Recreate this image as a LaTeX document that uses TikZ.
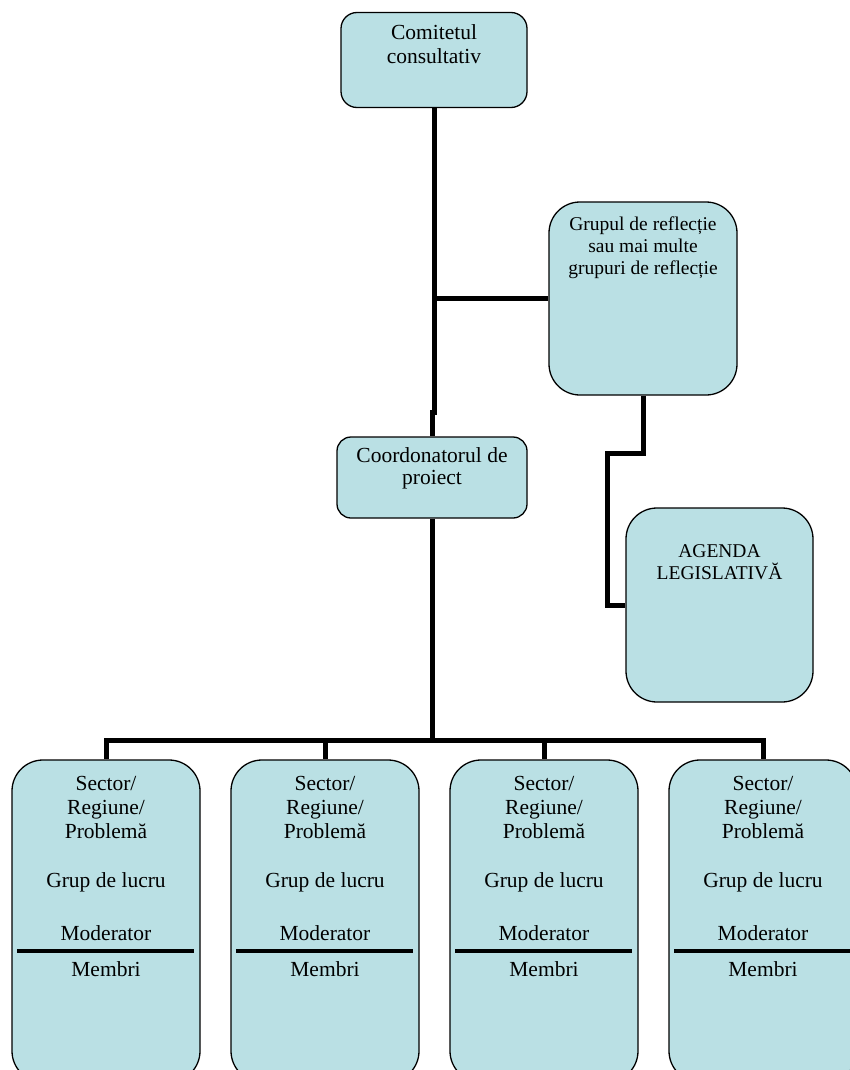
\documentclass[tikz,border=0pt]{standalone}
\usepackage{fontspec}
\setmainfont{Liberation Serif}

\definecolor{boxblue}{RGB}{186,224,228}

\tikzset{
  box/.style={draw, line width=1.3pt, fill=boxblue, inner sep=0pt},
  link/.style={line width=5pt},
  big/.style={font=\fontsize{21.5}{24}\selectfont, align=center, inner sep=0pt},
  small/.style={font=\fontsize{19.5}{22}\selectfont, align=center, inner sep=0pt},
}

\newcommand\grouptext{\baselineskip=23.5pt Sector/\\Regiune/\\Problemă\\[25pt]Grup de lucru\\[29pt]Moderator\\[11.5pt]Membri}

\begin{document}
\begin{tikzpicture}[x=1pt, y=-1pt]
  \clip (0,0) rectangle (850,1070);

  % Boxes
  \node[box, rounded corners=16pt, minimum width=186pt, minimum height=95pt,
        label={[big, anchor=north, yshift=-13pt]north:{Comitetul\\consultativ}}] (comitet) at (434,60) {};
  \node[box, rounded corners=31pt, minimum width=188pt, minimum height=193pt,
        label={[small, anchor=north, yshift=-15pt]north:{Grupul de reflecție\\sau mai multe\\grupuri de reflecție}}] (reflectie) at (643,298.5) {};
  \node[box, rounded corners=14pt, minimum width=190pt, minimum height=81pt,
        label={[big, anchor=north, yshift=-11pt, font=\fontsize{21.5}{22}\selectfont]north:{Coordonatorul de\\proiect}}] (coord) at (432,477.5) {};
  \node[box, rounded corners=31pt, minimum width=187pt, minimum height=194pt,
        label={[small, anchor=north, yshift=-37pt]north:{AGENDA\\LEGISLATIVĂ}}] (agenda) at (719.5,605) {};

  % Working groups
  \foreach \i in {1,...,4} {
    \node[box, rounded corners=31pt, minimum width=188pt, minimum height=322pt,
          label={[big, anchor=north, yshift=-17pt]north:{\grouptext}}] (g\i) at ({106+219*(\i-1)},921) {};
    \draw[line width=4pt] ([xshift=6pt,yshift=-192pt]g\i.north west)
      -- ([xshift=-7pt,yshift=-192pt]g\i.north east);
  }

  % Connectors
  \coordinate (jog) at (434,412);
  \coordinate (bend) at (607,453);
  \coordinate (bus) at (432,740);
  \draw[link] (comitet.south) -- (jog) -| (coord.north);
  \draw[link] (reflectie.west) -- (reflectie.west -| comitet.south);
  \draw[link] (reflectie.south) |- (bend) |- (agenda.west);
  \draw[link] (coord.south) -- (bus);
  \foreach \i in {1,...,4}
    \draw[link] (bus) -| (g\i.north);
\end{tikzpicture}
\end{document}
